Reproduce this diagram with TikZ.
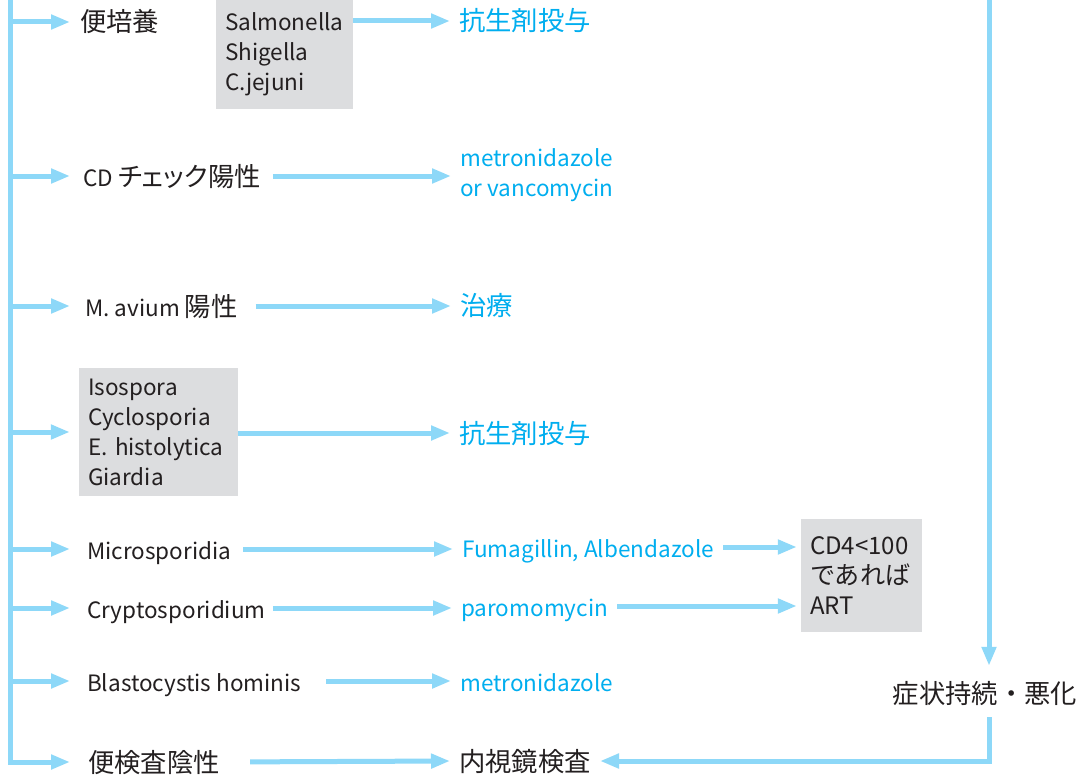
\documentclass[tikz,border=0pt]{standalone}
\usepackage{fontspec}
\setmainfont{Noto Sans CJK JP}
\newfontfamily\jp[Scale=1.17]{Noto Sans CJK JP}
\newfontfamily\jpp[Scale=1.17,RawFeature=+palt]{Noto Sans CJK JP}
\usetikzlibrary{arrows.meta}
\definecolor{arr}{RGB}{141,216,248}
\definecolor{cy}{RGB}{0,174,239}
\definecolor{gbox}{RGB}{220,221,223}
\definecolor{ink}{RGB}{35,31,32}
\begin{document}
\begin{tikzpicture}[x=1pt,y=-1pt,
  txt/.style={inner sep=0pt,font=\fontsize{22.5}{30}\selectfont},
  lbl/.style={txt,anchor=west,text=ink,text height=21pt,text depth=1pt},
  rx/.style={txt,anchor=west,text=cy,inner xsep=9pt,text height=21pt,text depth=1pt},
  rxm/.style={txt,anchor=west,text=cy,inner xsep=9pt,align=left},
  gb/.style={txt,fill=gbox,text=ink,inner xsep=9pt,align=left},
  conn/.style={draw=arr,line width=5pt,-{Triangle[length=19pt,width=14pt]}},
  ]
\useasboundingbox (0,0) rectangle (1086,776);
\fill[white] (0,0) rectangle (1086,776);
\coordinate (ltop) at (10,-4);
\coordinate (rtop) at (989,-4);
% nodes
\node[lbl] (l1) at (80,22) {\jp 便培養};
\node[gb,minimum width=137pt,minimum height=109pt,text width=119pt] (b1) at (284.5,54.5) {Salmonella\\Shigella\\C.jejuni};
\node[rx] (t1) at (450,21) {\jp 抗生剤投与};
\node[lbl] (l2) at (83,176) {CD {\jpp チェック}{\jp 陽性}};
\node[rxm] (t2) at (451,175) {metronidazole\\or vancomycin};
\node[lbl] (l3) at (85,306) {M. avium {\jp 陽性}};
\node[rx] (t3) at (451,305) {\jp 治療};
\node[gb,minimum width=159pt,minimum height=128pt,text width=141pt] (b2) at (158.5,432) {Isospora\\Cyclosporia\\E. histolytica\\Giardia};
\node[rx] (t4) at (450,433) {\jp 抗生剤投与};
\node[lbl] (l5) at (87,549) {Microsporidia};
\node[rx] (t5) at (453,547) {Fumagillin, Albendazole};
\node[gb,minimum width=121pt,minimum height=113pt,text width=103pt] (b3) at (861.5,575.5) {\fontsize{24}{30}\selectfont CD4<100\\{\jp\fontsize{21.5}{30}\selectfont であれば}\\ART};
\node[lbl] (l6) at (87,608) {Cryptosporidium};
\node[rx] (t6) at (452,606) {paromomycin};
\node[lbl] (l7) at (87,681) {Blastocystis hominis};
\node[rx] (t7) at (451,681) {metronidazole};
\node[lbl] (l8) at (88,762) {\jp 便検査陰性};
\node[rx,text=ink] (t8) at (450,761) {\jp 内視鏡検査};
\node[lbl,anchor=center] (s) at (985,693) {\jp 症状持続・悪化};
% left trunk and branches
\draw[conn,shorten >=18pt] (ltop) |- (l8.west);
\draw[conn,shorten >=10pt] (l1.west -| ltop) -- (l1.west);
\draw[conn,shorten >=13pt] (l2.west -| ltop) -- (l2.west);
\draw[conn,shorten >=15pt] (l3.west -| ltop) -- (l3.west);
\draw[conn,shorten >=9pt] (b2.west -| ltop) -- (b2.west);
\draw[conn,shorten >=17pt] (l5.west -| ltop) -- (l5.west);
\draw[conn,shorten >=17pt] (l6.west -| ltop) -- (l6.west);
\draw[conn,shorten >=17pt] (l7.west -| ltop) -- (l7.west);
% horizontal arrows
\draw[conn] (t1.west -| b1.east) -- (t1.west);
\draw[conn,shorten <=12pt] (l2.east) -- (l2.east -| t2.west);
\draw[conn,shorten <=18pt] (l3.east) -- (l3.east -| t3.west);
\draw[conn] (t4.west -| b2.east) -- (t4.west);
\draw[conn,shorten <=12pt] (l5.east) -- (l5.east -| t5.west);
\draw[conn,shorten >=4pt] (t5.east) -- (t5.east -| b3.west);
\draw[conn,shorten <=7pt] (l6.east) -- (l6.east -| t6.west);
\draw[conn,shorten >=4pt] (t6.east) -- (t6.east -| b3.west);
\draw[conn,shorten <=25pt] (l7.east) -- (l7.east -| t7.west);
\draw[conn,shorten <=30pt] (l8.east) -- (t8.west);
% right side
\draw[conn,shorten >=16pt] (rtop) -- (rtop |- s.north);
\draw[conn,shorten <=13pt] (s.south -| rtop) |- (t8.east);
\end{tikzpicture}
\end{document}
